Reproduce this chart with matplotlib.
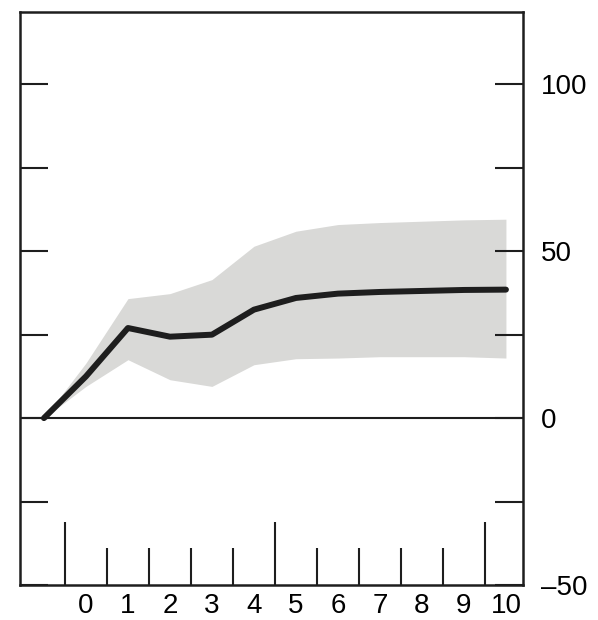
import matplotlib
matplotlib.use("Agg")
import matplotlib.pyplot as plt
import numpy as np

plt.rcParams['font.family'] = ['Liberation Sans', 'DejaVu Sans']

# datos
quarters = [-1, 0, 1, 2, 3, 4, 5, 6, 7, 8, 9, 10]
response = [0, 12.5, 27, 24.4, 25, 32.5, 36, 37.3, 37.8, 38.1, 38.4, 38.5]
band_upper = [0, 16.5, 35.8, 37.3, 41.5, 51.5, 56, 58, 58.6, 59, 59.4, 59.6]
band_lower = [0, 9.5, 17.5, 11.5, 9.5, 16, 17.8, 18, 18.4, 18.4, 18.4, 18]

xtick_labels = [str(i) for i in range(0, 11)]
tick_pos = [i - 0.5 for i in range(0, 11)]
long_ticks = [-0.5, 4.5, 9.5]
ytick_vals = [-50, -25, 0, 25, 50, 75, 100]
ytick_labels = ['\u201350', '', '0', '', '50', '', '100']

fig = plt.figure(figsize=(5.98, 6.2), dpi=100)
ax = fig.add_axes([0.0334, 0.0565, 0.8411, 0.9242])

ax.fill_between(quarters, band_lower, band_upper, color='#d9d9d7', lw=0, zorder=1)
ax.plot(quarters, response, color='#1e1e1e', lw=4.3, solid_capstyle='round',
        solid_joinstyle='round', zorder=3)
ax.axhline(0, color='#1e1e1e', lw=1.5, zorder=2)

# marcas del eje x entre trimestres
for t in tick_pos:
    h = 18.8 if t in long_ticks else 11.2
    ax.vlines(t, -50, -50 + h, color='#1e1e1e', lw=1.5)

ax.set_xlim(-1.571, 10.405)
ax.set_ylim(-50, 121.7)

ax.set_xticks(range(0, 11))
ax.set_xticklabels(xtick_labels, fontsize=20)
ax.tick_params(axis='x', length=0, pad=6)

ax.set_yticks(ytick_vals)
ax.set_yticklabels(ytick_labels, fontsize=20)
ax.yaxis.set_ticks_position('both')
ax.tick_params(axis='y', direction='in', length=20, width=1.5, color='#1e1e1e',
               labelleft=False, labelright=True, pad=13)

for s in ax.spines.values():
    s.set_linewidth(1.8)
    s.set_color('#1e1e1e')

fig.savefig('out.png', dpi=100)
